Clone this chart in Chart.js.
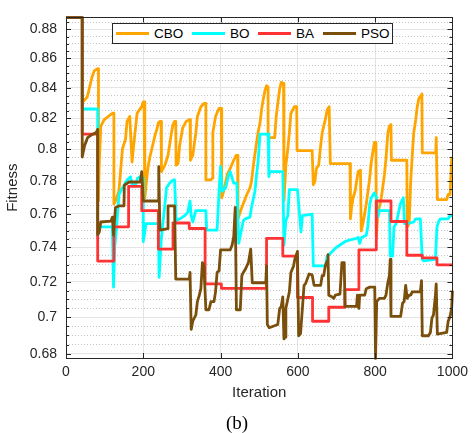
<!DOCTYPE html>
<html>
<head>
<meta charset="utf-8">
<script src="https://cdn.jsdelivr.net/npm/chart.js@4/dist/chart.umd.min.js"></script>
<style>
  html, body { margin: 0; padding: 0; background: #fff; }
  #wrap { position: relative; width: 474px; height: 433px; font-family: "Liberation Sans", Arial, sans-serif; }
  #legend { position: absolute; left: 112px; top: 23px; width: 279px; height: 19px; border: 1px solid #262626; background: #fff; }
  #legend .ln { position: absolute; top: 8px; width: 33px; height: 3px; }
  #legend .tx { position: absolute; top: 0; height: 19px; line-height: 19px; font-size: 13.5px; color: #000; }
  #cap { position: absolute; left: 0; top: 413px; width: 474px; text-align: center; font-family: "Liberation Serif", "Times New Roman", serif; font-size: 19px; line-height: 20px; color: #000; }
</style>
</head>
<body>
<div id="wrap">
  <canvas id="c" width="474" height="433"></canvas>
  <div id="legend">
    <span class="ln" style="left:3px;background:#ffa500"></span><span class="tx" style="left:41px">CBO</span>
    <span class="ln" style="left:79px;background:#00ffff"></span><span class="tx" style="left:117px">BO</span>
    <span class="ln" style="left:145px;background:#ff3333"></span><span class="tx" style="left:183px">BA</span>
    <span class="ln" style="left:210px;background:#7a4f0b"></span><span class="tx" style="left:248px">PSO</span>
  </div>
  <div id="cap">(b)</div>
</div>
<script>
// fitness curves (iteration, fitness)
const cboIter = [0,42,42,55,61,67,73,82,84,84,86,90,99,120,124,124,128,137,146,154,158,165,171,175,184,190,196,200,202,204,209,213,218,222,226,230,235,239,243,246,247,256,264,273,277,281,284,285,290,294,302,311,319,321,322,328,336,340,349,357,362,362,375,378,380,387,396,402,403,408,417,425,434,440,444,445,455,468,476,480,485,492,497,502,506,510,515,519,523,523,540,544,548,553,557,563,564,569,574,578,582,591,597,598,637,640,644,648,654,658,663,667,671,676,681,684,735,736,739,743,748,752,756,762,764,770,777,785,790,794,798,802,803,807,816,824,828,833,837,841,842,882,883,888,892,896,900,905,909,913,919,921,922,957,958,960,961,985,989,994,998,1000];
const cboFit = [.8884,.8884,.8303,.8340,.8405,.8471,.8515,.8530,.8530,.7678,.7900,.8149,.8191,.8233,.8233,.7659,.7678,.7738,.8002,.8065,.8180,.8212,.7920,.8023,.8233,.8255,.8276,.8308,.8308,.7698,.7818,.7900,.7961,.8002,.8044,.8086,.8128,.8169,.8180,.8180,.7859,.7900,.7961,.8107,.8159,.8180,.8180,.7900,.7910,.8023,.8138,.8180,.8191,.8191,.7931,.7961,.8107,.8212,.8276,.8297,.8297,.7808,.7808,.7818,.8107,.8212,.8265,.8265,.7698,.7738,.7839,.7880,.7931,.7961,.7961,.7570,.7639,.7718,.7758,.7798,.7900,.8023,.8107,.8169,.8255,.8319,.8384,.8416,.8405,.8075,.8075,.8212,.8297,.8394,.8438,.8430,.7680,.7900,.8002,.8107,.8233,.8276,.8276,.7992,.7992,.7778,.7798,.7880,.7900,.8002,.8107,.8149,.8191,.8255,.8276,.7910,.7910,.7570,.7639,.7698,.7738,.7798,.7859,.7869,.7497,.7560,.7659,.7800,.7920,.7982,.8044,.8044,.7463,.7600,.7698,.7839,.7941,.8107,.8149,.8159,.7931,.7931,.7520,.7541,.7798,.7961,.8107,.8191,.8276,.8329,.8351,.8361,.7978,.7978,.8075,.8075,.7687,.7687,.7718,.7718,.7941,.7950];

const boIter = [0,42,42,82,82,85,120,123,126,131,137,146,158,167,171,180,185,192,200,200,207,239,241,247,256,260,268,277,281,285,295,307,315,321,324,328,336,362,364,391,396,400,404,413,421,425,434,442,447,459,464,476,480,489,493,497,502,523,525,527,561,564,569,574,578,599,608,612,637,640,671,676,682,697,709,722,735,752,756,760,765,777,781,786,790,798,803,807,811,837,839,845,849,854,858,865,873,876,883,900,905,917,922,926,956,960,964,969,989,994,1000];
const boFit = [.8884,.8884,.8261,.8261,.7463,.7522,.7522,.7170,.7405,.7522,.7718,.7758,.7808,.7828,.7778,.7778,.7818,.7828,.7818,.7434,.7541,.7541,.7226,.7463,.7659,.7758,.7788,.7808,.7808,.7560,.7570,.7589,.7609,.7678,.7589,.7551,.7619,.7619,.7502,.7502,.7738,.7890,.7738,.7758,.7839,.7859,.7788,.7788,.7424,.7560,.7570,.7580,.7639,.7738,.7839,.7920,.8097,.8097,.7828,.7859,.7859,.7414,.7560,.7589,.7748,.7748,.7492,.7589,.7599,.7292,.7292,.7349,.7360,.7395,.7414,.7434,.7444,.7453,.7459,.7424,.7459,.7472,.7522,.7659,.7698,.7728,.7700,.7580,.7619,.7619,.7349,.7349,.7522,.7541,.7580,.7659,.7698,.7541,.7541,.7551,.7570,.7570,.7330,.7321,.7330,.7522,.7551,.7570,.7570,.7589,.7589];

const baIter = [0,42,42,82,82,124,124,162,162,196,196,239,239,277,277,319,319,360,360,402,402,519,519,561,561,599,599,638,638,680,680,722,722,758,758,803,803,841,841,882,882,922,922,960,960,1000];
const baFit = [.8884,.8884,.8097,.8097,.7320,.7320,.7522,.7522,.7768,.7768,.7619,.7619,.7390,.7390,.7545,.7545,.7512,.7512,.7188,.7188,.7163,.7163,.7453,.7453,.7349,.7349,.7111,.7111,.6978,.6978,.7056,.7056,.7156,.7156,.7386,.7386,.7678,.7678,.7554,.7554,.7354,.7354,.7339,.7339,.7298,.7298];

const psoIter = [0,42,42,48,56,69,78,82,82,86,90,116,120,123,128,137,150,151,163,192,196,200,239,240,243,264,264,281,284,319,321,324,328,332,336,340,345,349,353,357,362,370,375,383,387,391,396,400,425,430,434,438,441,451,455,459,464,472,478,482,517,519,521,526,548,553,557,561,564,567,569,578,582,589,592,599,602,607,616,620,629,637,642,659,663,667,671,676,678,680,688,693,697,709,714,720,722,752,754,758,760,773,777,786,799,801,804,811,824,828,833,837,839,841,866,871,875,879,883,888,892,896,917,920,922,938,943,947,951,956,958,961,985,989,994,998,1000];
const psoFit = [.8884,.8884,.7951,.8023,.8075,.8097,.8107,.8128,.7477,.7490,.7551,.7556,.7580,.7473,.7639,.7648,.7648,.7775,.7795,.7795,.7859,.7678,.7678,.7890,.7502,.7512,.7648,.7648,.7216,.7216,.7254,.6933,.6978,.6996,.7014,.7088,.7124,.7161,.7311,.7292,.7042,.7042,.7088,.7088,.7143,.7254,.7263,.7386,.7386,.7414,.7463,.7639,.7042,.7042,.7236,.7254,.7272,.7311,.7390,.7195,.7195,.7292,.6960,.6942,.6960,.7050,.7060,.7115,.6881,.6890,.7050,.7143,.7254,.7292,.7329,.7377,.6898,.6910,.7180,.7190,.7245,.7240,.7180,.7180,.7236,.7236,.7292,.7320,.7357,.7124,.7115,.7106,.7124,.7130,.7311,.7311,.7061,.7061,.7124,.7050,.7124,.7124,.7161,.7170,.7170,.6775,.7088,.7106,.7106,.7124,.7198,.7236,.7329,.7005,.7005,.7079,.7088,.7180,.7106,.7124,.7124,.7143,.7143,.7207,.6898,.6898,.6916,.6996,.7014,.7124,.7189,.6907,.6916,.6978,.7005,.7050,.7150];

const xTicks = [0, 200, 400, 600, 800, 1000];
const yMajor = [0.68, 0.70, 0.72, 0.74, 0.76, 0.78, 0.80, 0.82, 0.84, 0.86, 0.88];
const yMin = 0.6777, yMax = 0.8885;

const axisCol = '#262626';
const isMajor = v => Math.round(v * 1000) % 20 === 0;

function pts(xs, ys){ return xs.map((x, i) => ({x: x, y: ys[i]})); }

// minor y ticks every 0.005, majors every 0.02
const yAll = [];
for (let k = 136; k <= 177; k++) yAll.push(k / 200);

const frame = {
  id: 'frame',
  afterDraw(chart){
    const {ctx, chartArea: a, scales: {x, y}} = chart;
    ctx.save();
    ctx.strokeStyle = axisCol;
    ctx.lineWidth = 1;
    ctx.beginPath();
    yAll.forEach(v => {
      const py = Math.round(y.getPixelForValue(v)) + 0.5;
      const len = isMajor(v) ? 5 : 3;
      ctx.moveTo(a.left, py); ctx.lineTo(a.left + len, py);
      ctx.moveTo(a.right, py); ctx.lineTo(a.right - len, py);
    });
    xTicks.forEach(v => {
      const px = Math.round(x.getPixelForValue(v)) + 0.5;
      ctx.moveTo(px, a.bottom); ctx.lineTo(px, a.bottom - 5);
      ctx.moveTo(px, a.top); ctx.lineTo(px, a.top + 5);
    });
    ctx.stroke();
    ctx.strokeRect(Math.round(a.left) + 0.5, Math.round(a.top) + 0.5, Math.round(a.right - a.left), Math.round(a.bottom - a.top));
    ctx.restore();
  }
};

const line = (label, xs, ys, color, order) => ({
  label: label, data: pts(xs, ys), borderColor: color, backgroundColor: color,
  borderWidth: 2.8, pointRadius: 0, tension: 0, order: order, clip: 3,
  borderJoinStyle: 'round'
});

new Chart(document.getElementById('c'), {
  type: 'line',
  data: { datasets: [
    line('CBO', cboIter, cboFit, '#ffa500', 4),
    line('BO', boIter, boFit, '#00ffff', 3),
    line('BA', baIter, baFit, '#ff3333', 2),
    line('PSO', psoIter, psoFit, '#7a4f0b', 1),
  ]},
  options: {
    responsive: false, animation: false, devicePixelRatio: 1,
    layout: { padding: { left: 0, right: 16, top: 8, bottom: 0 } },
    plugins: { legend: { display: false }, tooltip: { enabled: false } },
    scales: {
      x: {
        type: 'linear', min: 0, max: 1000,
        afterFit(s){ s.height = 75; },
        afterBuildTicks(s){ s.ticks = xTicks.map(v => ({value: v})); },
        ticks: { padding: 6, color: axisCol, font: { family: 'Liberation Sans', size: 14 }, autoSkip: false, maxRotation: 0, callback: v => String(v) },
        grid: { color: '#e4e4e4', drawTicks: false },
        border: { display: false },
        title: { display: true, text: 'Iteration', color: axisCol, font: { family: 'Liberation Sans', size: 15 }, padding: { top: 0, bottom: 31 } }
      },
      y: {
        type: 'logarithmic', min: yMin, max: yMax,
        afterFit(s){ s.width = 66; },
        afterBuildTicks(s){ s.ticks = yAll.map(v => ({value: v})); },
        ticks: {
          padding: 9, color: axisCol, autoSkip: false,
          font: { family: 'Liberation Sans', size: 14 },
          callback: v => isMajor(v) && yMajor.some(m => Math.abs(m - v) < 1e-6) ? String(parseFloat(v.toFixed(2))) : ''
        },
        grid: { drawTicks: false, color: c => isMajor(c.tick.value) ? '#e4e4e4' : '#c4c4c4' },
        border: { display: false, dash: c => (c.tick && !isMajor(c.tick.value)) ? [1, 2] : [] },
        title: { display: true, text: 'Fitness', color: axisCol, font: { family: 'Liberation Sans', size: 15 }, padding: { top: 4, bottom: 0 } }
      }
    }
  },
  plugins: [frame]
});
</script>
</body>
</html>
